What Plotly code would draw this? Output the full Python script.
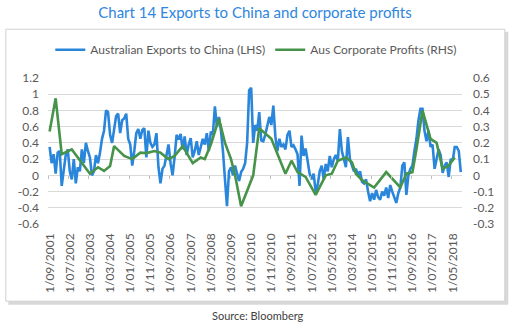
import plotly.graph_objects as go

# ---------------- data ----------------
start_year, start_month = 2001, 9
exports_lhs = [
    0.35, 0.15, 0.26, 0.02, 0.28, 0.30, -0.13, 0.05, 0.25, 0.32,
    0.05, -0.05, 0.20, -0.10, 0.10, 0.05, 0.32, 0.15, 0.40, 0.30,
    0.22, 0.00, 0.05, 0.25, 0.15, 0.28, 0.45, 0.55, 0.80, 0.78,
    0.50, 0.40, 0.58, 0.73, 0.76, 0.52, 0.68, 0.70, 0.76, 0.45,
    0.38, 0.12, 0.30, 0.52, 0.57, 0.45, 0.56, 0.58, 0.22, 0.55,
    0.40, 0.35, 0.38, 0.52, 0.10, -0.10, 0.08, 0.12, 0.25, 0.38,
    0.15, 0.00, 0.22, 0.50, 0.44, 0.51, 0.32, 0.48, 0.25, 0.38,
    0.46, 0.22, 0.30, 0.42, 0.25, 0.34, 0.45, 0.38, 0.52, 0.30,
    0.54, 0.50, 0.85, 0.60, 0.72, 0.55, 0.30, -0.05, -0.38, 0.05,
    0.10, 0.00, 0.12, 0.02, -0.07, 0.04, 0.08, 0.15, 0.40, 1.05,
    1.08, 0.40, 0.62, 0.55, 0.78, 0.43, 0.42, 0.50, 0.62, 0.72,
    0.62, 0.86, 0.48, 0.30, 0.45, 0.35, 0.38, 0.32, 0.50, 0.55,
    0.35, 0.37, 0.32, 0.26, -0.13, 0.49, 0.24, 0.33, 0.18, 0.02,
    -0.05, 0.02, -0.20, -0.12, 0.05, 0.12, -0.05, 0.14, 0.05, 0.24,
    0.10, 0.20, 0.25, 0.18, 0.57, 0.30, 0.20, 0.10, 0.47, 0.20,
    0.12, 0.05, 0.08, 0.00, 0.05, -0.08, -0.10, -0.05, -0.20, -0.32,
    -0.22, -0.30, -0.18, -0.27, -0.30, -0.20, -0.25, -0.15, -0.28, -0.12,
    -0.20, -0.26, -0.34, -0.22, -0.15, 0.12, 0.16, -0.24, 0.00, 0.08,
    0.12, 0.30, 0.45, 0.68, 0.82, 0.82, 0.55, 0.42, 0.55, 0.35,
    0.38, 0.08, 0.22, 0.32, 0.25, 0.03, 0.12, 0.16, -0.02, 0.20,
    0.18, 0.35, 0.35, 0.30, 0.04,
]
profits_month_idx = [0, 3, 6, 11, 20, 24, 27, 30, 32, 37, 41, 45, 48, 52, 55, 59, 62,
                     66, 71, 75, 77, 80, 84, 87, 90, 92, 95, 101, 104, 110, 117, 120,
                     123, 127, 132, 137, 140, 143, 147, 150, 152, 155, 161, 167, 174,
                     177, 180, 182, 185, 189, 192, 195, 198, 201]
profits_rhs = [0.27, 0.475, 0.13, 0.16, 0.01, 0.05, 0.027, 0.057, 0.18, 0.12, 0.10, 0.14,
               0.137, 0.15, 0.14, 0.10, 0.12, 0.18, 0.075, 0.11, 0.10, 0.19, 0.35, 0.20,
               0.10, 0.00, -0.19, 0.00, 0.29, 0.225, 0.01, 0.09, 0.02, -0.01, -0.12,
               0.00, 0.01, 0.09, 0.11, 0.08, 0.01, -0.03, -0.075, 0.02, -0.075, 0.01,
               0.02, 0.16, 0.40, 0.225, 0.20, 0.04, 0.06, 0.11]

left_ticks = [-0.6, -0.4, -0.2, 0, 0.2, 0.4, 0.6, 0.8, 1, 1.2]
left_labels = ["-0.6", "-0.4", "-0.2", "0", "0.2", "0.4", "0.6", "0.8", "1", "1.2"]
right_ticks = [-0.3, -0.2, -0.1, 0, 0.1, 0.2, 0.3, 0.4, 0.5, 0.6]
right_labels = ["-0.3", "-0.2", "-0.1", "0", "0.1", "0.2", "0.3", "0.4", "0.5", "0.6"]
label_step = 10

# ---------------- derived ----------------
n = len(exports_lhs)
dates = []
for i in range(n):
    mm = start_month - 1 + i
    dates.append(f"1/{mm % 12 + 1:02d}/{start_year + mm // 12}")
x_idx = list(range(n))
tick_pos = list(range(0, n, label_step))
tick_text = [dates[i] for i in tick_pos]

BLUE = "#2A86DA"
GREEN = "#46934A"
GREY = "#595959"
FONT = "Lato"

W, H = 511, 327
L, R, T, B = 47.7, 49.3, 78.3, 102.7
pw, ph = W - L - R, H - T - B
def px(x): return (x - L) / pw
def py(y): return (H - B - y) / ph

fig = go.Figure()
fig.add_trace(go.Scatter(
    x=x_idx, y=exports_lhs, mode="lines", name="Australian Exports to China (LHS)",
    line=dict(color=BLUE, width=2.6), xaxis="x", yaxis="y"))
fig.add_trace(go.Scatter(
    x=profits_month_idx, y=profits_rhs, mode="lines", name="Aus Corporate Profits (RHS)",
    line=dict(color=GREEN, width=2.6), xaxis="x2", yaxis="y2"))

xr = [-0.8, n - 0.4]
fig.update_layout(
    width=W, height=H,
    margin=dict(l=L, r=R, t=T, b=B, pad=0),
    paper_bgcolor="white", plot_bgcolor="white",
    font=dict(family=FONT, color=GREY, size=12),
    title=dict(text="Chart 14 Exports to China and corporate profits",
               x=0.5, xref="paper", xanchor="center", y=1 - 13 / H, yref="container",
               yanchor="middle", font=dict(family=FONT, size=15, color="#2E86DE")),
    showlegend=True,
    legend=dict(orientation="h", x=px(256), xanchor="center", y=py(50), yanchor="middle",
                font=dict(family=FONT, size=12, color=GREY), itemwidth=30,
                bgcolor="rgba(0,0,0,0)"),
    xaxis=dict(range=xr, tickvals=tick_pos, ticktext=tick_text, tickangle=-90,
               showgrid=False, zeroline=False, showline=False, ticks="",
               ticklabelstandoff=6, tickfont=dict(size=12, color=GREY)),
    xaxis2=dict(range=xr, overlaying="x", anchor="free", position=0.6 / 1.8,
                tickvals=[p - 0.5 for p in tick_pos], showticklabels=False,
                ticks="outside", ticklen=3, tickcolor="#BFBFBF", tickwidth=1,
                showgrid=False, zeroline=False, showline=False),
    yaxis=dict(range=[-0.6, 1.2], tickvals=left_ticks, ticktext=left_labels,
               showgrid=True, gridcolor="#D9D9D9", gridwidth=1, zeroline=False,
               showline=False, ticks="", ticklabelstandoff=8,
               tickfont=dict(size=12, color=GREY)),
    yaxis2=dict(range=[-0.3, 0.6], tickvals=right_ticks, ticktext=right_labels,
                overlaying="y", side="right", anchor="x", showgrid=False,
                zeroline=False, showline=False, ticks="", ticklabelstandoff=10,
                tickfont=dict(size=12, color=GREY)),
    shapes=[
        dict(type="rect", xref="paper", yref="paper", x0=px(8), x1=px(508), y0=py(305), y1=py(32),
             line=dict(width=0), fillcolor="#D8D8D8", layer="below"),
        dict(type="rect", xref="paper", yref="paper", x0=px(5.5), x1=px(504.5), y0=py(301.5), y1=py(29.5),
             line=dict(width=1, color="#D0D0D0"), fillcolor="white", layer="below"),
    ],
    annotations=[
        dict(text="Source: Bloomberg", x=px(258), y=py(316), xref="paper", yref="paper",
             xanchor="center", yanchor="middle", showarrow=False,
             font=dict(family=FONT, size=11, color="#404040")),
    ],
)

fig.write_html("out.html")
